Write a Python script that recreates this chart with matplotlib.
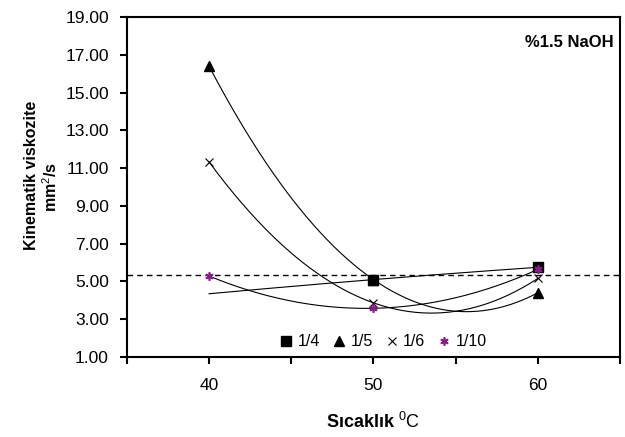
import numpy as np
import matplotlib
matplotlib.use("Agg")
import matplotlib.pyplot as plt

plt.rcParams['font.family'] = ['Liberation Sans', 'DejaVu Sans']
plt.rcParams['mathtext.fontset'] = 'custom'
plt.rcParams['mathtext.rm'] = 'Liberation Sans'
plt.rcParams['mathtext.it'] = 'Liberation Sans'
plt.rcParams['mathtext.bf'] = 'Liberation Sans:bold'

temps = [40, 50, 60]
series_names = ["1/4", "1/5", "1/6", "1/10"]
v_14 = [4.35, 5.10, 5.75]
v_15 = [16.40, 5.10, 4.40]
v_16 = [11.33, 3.87, 5.16]
v_110 = [5.29, 3.58, 5.64]
shown_14 = [False, True, True]  # no marker visible at 40 for 1/4
ref_line = 5.32
yticks = [1, 3, 5, 7, 9, 11, 13, 15, 17, 19]
xtick_labels = {40: "40", 50: "50", 60: "60"}

W, H = 625, 437
fig = plt.figure(figsize=(W / 100, H / 100), dpi=100)
ax = fig.add_axes([0.203, 0.183, 0.789, 0.778])

series = [v_14, v_15, v_16, v_110]
styles = [
    dict(marker='s', color='black', ms=6.5, mec='black'),
    dict(marker='^', color='black', ms=7.5, mec='black'),
    dict(marker='x', color='black', ms=6, mew=0.8),
    dict(marker=(6, 2, 0), color='#8B1A8B', ms=6, mew=1.2),
]

xs = np.linspace(40, 60, 200)
for name, vals, st in zip(series_names, series, styles):
    coef = np.polyfit(temps, vals, 2)
    ax.plot(xs, np.polyval(coef, xs), color='black', lw=0.8, zorder=2)
    if name == "1/4":
        px = [t for t, s in zip(temps, shown_14) if s]
        py = [v for v, s in zip(vals, shown_14) if s]
    else:
        px, py = temps, vals
    ax.plot(px, py, ls='none', label=name, zorder=3, **st)

ax.axhline(ref_line, color='black', ls=(0, (4, 3)), lw=1.0, zorder=1)

ax.set_xlim(35, 65)
ax.set_ylim(1, 19)
ax.set_yticks(yticks)
ax.set_yticklabels([f"{v:.2f}" for v in yticks])
xt = list(range(35, 66, 5))
ax.set_xticks(xt)
ax.set_xticklabels([xtick_labels.get(t, "") for t in xt])
ax.tick_params(axis='both', direction='out', length=5, width=1.5, labelsize=12.5)
ax.tick_params(axis='x', pad=10)
ax.tick_params(axis='y', pad=8)
for sp in ax.spines.values():
    sp.set_linewidth(1.5)
    sp.set_color('black')

# y-axis title drawn as two centred lines (Excel style)
fig.text(32 / W, 1 - 175 / H, "Kinematik viskozite", rotation=90, ha='center', va='center',
         fontsize=11.5, fontweight='bold')
fig.text(51 / W, 1 - 187 / H, "mm$^2$/s", rotation=90, ha='center', va='center',
         fontsize=11.5, fontweight='bold')

ax.set_xlabel("Sıcaklık $^{0}\\mathrm{C}$", fontsize=13, fontweight='bold', labelpad=14)

ax.text(0.987, 0.925, "%1.5 NaOH", transform=ax.transAxes, ha='right', va='center',
        fontsize=12, fontweight='bold')

ax.legend(loc='lower center', bbox_to_anchor=(0.52, -0.02), ncol=4, frameon=False,
          fontsize=11.5, handlelength=0.8, handletextpad=0.3, columnspacing=0.8)

fig.savefig("out.png", dpi=100)
